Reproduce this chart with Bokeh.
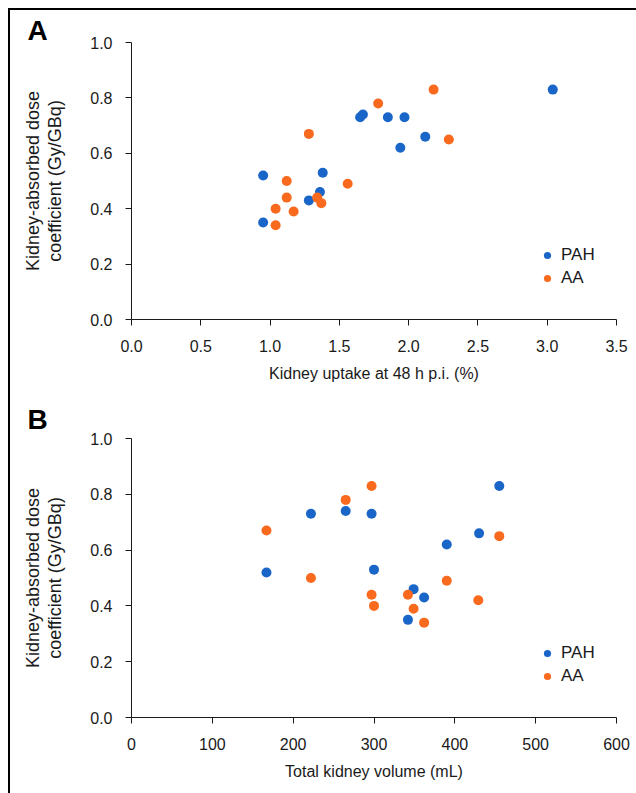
from bokeh.plotting import figure
from bokeh.models import Range1d, FixedTicker, PrintfTickFormatter, Legend, LegendItem, Spacer, Title
from bokeh.layouts import column, row
from bokeh.embed import file_html
from bokeh.resources import INLINE

# ---- data ----
uptake_pah = [0.95, 0.95, 1.28, 1.36, 1.38, 1.65, 1.67, 1.85, 1.97, 1.94, 2.12, 3.04]
dose_pah_a = [0.52, 0.35, 0.43, 0.46, 0.53, 0.73, 0.74, 0.73, 0.73, 0.62, 0.66, 0.83]
uptake_aa = [1.04, 1.04, 1.12, 1.12, 1.17, 1.28, 1.34, 1.37, 1.56, 1.78, 2.18, 2.29]
dose_aa_a = [0.34, 0.40, 0.44, 0.50, 0.39, 0.67, 0.44, 0.42, 0.49, 0.78, 0.83, 0.65]

volume_pah = [167, 222, 265, 297, 300, 342, 349, 362, 390, 430, 455]
dose_pah_b = [0.52, 0.73, 0.74, 0.73, 0.53, 0.35, 0.46, 0.43, 0.62, 0.66, 0.83]
volume_aa = [167, 222, 265, 297, 297, 300, 342, 349, 362, 390, 429, 455]
dose_aa_b = [0.67, 0.50, 0.78, 0.83, 0.44, 0.40, 0.44, 0.39, 0.34, 0.49, 0.42, 0.65]

series_names = ["PAH", "AA"]
y_ticks = [0.0, 0.2, 0.4, 0.6, 0.8, 1.0]
x_ticks_a = [0.0, 0.5, 1.0, 1.5, 2.0, 2.5, 3.0, 3.5]
x_ticks_b = [0, 100, 200, 300, 400, 500, 600]

BLUE = "#1a66c8"
ORANGE = "#fa6a1e"
FONT = "Liberation Sans"
TXT = "#1a1a1a"


def make_panel(letter, xs1, ys1, xs2, ys2, xmax, xticks, xfmt, xlabel,
               height, top, bottom, legend_y, letter_standoff):
    p = figure(width=626, height=height, output_backend="svg", toolbar_location=None,
               x_range=Range1d(0, xmax), y_range=Range1d(0, 1.0),
               min_border_left=121, min_border_right=20,
               min_border_top=top, min_border_bottom=bottom)
    p.outline_line_color = None
    p.grid.visible = False
    p.background_fill_color = "white"
    p.border_fill_color = "white"

    t = Title(text=letter, align="left", offset=-104, standoff=letter_standoff,
              text_font=FONT, text_font_size="28px", text_font_style="bold",
              text_color="black")
    p.add_layout(t, "above")

    r1 = p.scatter(xs1, ys1, size=10, color=BLUE, line_color=None)
    r2 = p.scatter(xs2, ys2, size=10, color=ORANGE, line_color=None)

    for ax in (p.xaxis[0], p.yaxis[0]):
        ax.axis_line_color = TXT
        ax.major_tick_line_color = TXT
        ax.major_tick_out = 6
        ax.major_tick_in = 0
        ax.minor_tick_line_color = None
        ax.major_label_text_font = FONT
        ax.major_label_text_font_size = "16px"
        ax.major_label_text_color = TXT
        ax.axis_label_text_font = FONT
        ax.axis_label_text_font_size = "16px"
        ax.axis_label_text_font_style = "normal"
        ax.axis_label_text_color = TXT

    p.xaxis.ticker = FixedTicker(ticks=xticks)
    p.xaxis.formatter = PrintfTickFormatter(format=xfmt)
    p.xaxis.axis_label = xlabel
    p.xaxis.major_label_standoff = 14
    p.xaxis.axis_label_standoff = 10

    p.yaxis.ticker = FixedTicker(ticks=y_ticks)
    p.yaxis.formatter = PrintfTickFormatter(format="%.1f")
    p.yaxis.axis_label = "Kidney-absorbed dose\ncoefficient (Gy/GBq)"
    p.yaxis.axis_label_text_font_size = "18px"
    p.yaxis.axis_label_text_line_height = 1.1
    p.yaxis.major_label_standoff = 13
    p.yaxis.axis_label_standoff = 22

    legend = Legend(items=[LegendItem(label=series_names[0], renderers=[r1]),
                           LegendItem(label=series_names[1], renderers=[r2])],
                    location=(407, legend_y))
    legend.border_line_color = None
    legend.background_fill_alpha = 0
    legend.padding = 0
    legend.margin = 0
    legend.spacing = 3
    legend.glyph_width = 18
    legend.glyph_height = 18
    legend.label_height = 18
    legend.label_standoff = 5
    legend.label_text_font = FONT
    legend.label_text_font_size = "17px"
    legend.label_text_color = TXT
    p.add_layout(legend, "center")
    return p


pa = make_panel("A", uptake_pah, dose_pah_a, uptake_aa, dose_aa_a, 3.5, x_ticks_a, "%.1f",
                "Kidney uptake at 48 h p.i. (%)", 378, 32, 69, 31, -6)
pb = make_panel("B", volume_pah, dose_pah_b, volume_aa, dose_aa_b, 600, x_ticks_b, "%d",
                "Total kidney volume (mL)", 397, 50, 68, 31, 8)

margin_top = Spacer(width=636, height=8)
margin_left = Spacer(width=8, height=785)
top_bar = Spacer(width=626, height=2, styles={"background-color": "black"})
left_bar = Spacer(width=2, height=785, styles={"background-color": "black"})
layout = column(margin_top,
                row(margin_left, left_bar, column(top_bar, pa, pb, spacing=0), spacing=0),
                spacing=0)

open("out.html", "w").write(file_html(layout, INLINE))
